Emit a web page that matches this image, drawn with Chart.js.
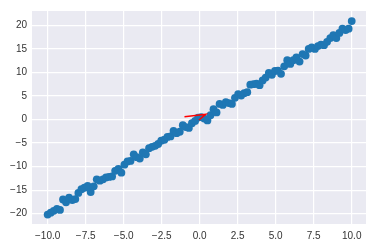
<!DOCTYPE html>
<html>
<head>
<meta charset="utf-8">
<script src="https://cdn.jsdelivr.net/npm/chart.js"></script>
<style>
  html, body { margin: 0; padding: 0; background: #fff; }
  #wrap { width: 373px; height: 247px; }
</style>
</head>
<body>
<div id="wrap"><canvas id="chart"></canvas></div>
<script>
// scatter data
const xVals = [
  -10.00, -9.80, -9.60, -9.39, -9.19, -8.99, -8.79, -8.59, -8.38, -8.18,
  -7.98, -7.78, -7.58, -7.37, -7.17, -6.97, -6.77, -6.57, -6.36, -6.16,
  -5.96, -5.76, -5.56, -5.35, -5.15, -4.95, -4.75, -4.55, -4.34, -4.14,
  -3.94, -3.74, -3.54, -3.33, -3.13, -2.93, -2.73, -2.53, -2.32, -2.12,
  -1.92, -1.72, -1.52, -1.31, -1.11, -0.91, -0.71, -0.51, -0.30, -0.10,
  0.10, 0.30, 0.51, 0.71, 0.91, 1.11, 1.31, 1.52, 1.72, 1.92,
  2.12, 2.32, 2.53, 2.73, 2.93, 3.13, 3.33, 3.54, 3.74, 3.94,
  4.14, 4.34, 4.55, 4.75, 4.95, 5.15, 5.35, 5.56, 5.76, 5.96,
  6.16, 6.36, 6.57, 6.77, 6.97, 7.17, 7.37, 7.58, 7.78, 7.98,
  8.18, 8.38, 8.59, 8.79, 8.99, 9.19, 9.39, 9.60, 9.80, 10.00
];
const yVals = [
  -20.2, -19.8, -19.4, -19.0, -19.2, -17.0, -17.6, -16.6, -17.1, -16.9,
  -15.6, -14.8, -14.5, -14.1, -15.4, -14.2, -12.7, -13.0, -12.7, -12.3,
  -12.2, -12.1, -10.9, -10.5, -11.3, -9.6, -8.9, -8.8, -7.4, -8.0,
  -8.3, -7.0, -7.4, -6.1, -5.8, -5.6, -5.2, -4.5, -4.3, -3.7,
  -3.6, -2.4, -2.9, -2.6, -1.2, -1.6, -1.8, -0.8, -0.3, 0.4,
  0.5, 0.2, -0.2, 0.9, 2.2, 1.5, 3.3, 3.1, 3.7, 3.5,
  3.3, 4.6, 5.4, 5.1, 5.6, 5.8, 7.4, 7.5, 7.6, 7.3,
  8.3, 8.9, 9.9, 9.5, 10.3, 10.4, 9.7, 11.3, 12.6, 11.8,
  12.6, 13.2, 12.3, 13.9, 13.6, 15.0, 15.3, 15.0, 15.6, 15.9,
  15.8, 16.5, 17.3, 17.9, 17.3, 18.4, 19.3, 19.0, 19.3, 20.9
];

// red arrow: tail, tip, barb
const arrowX = [-1.0, 0.4, -0.05];
const arrowY = [0.6, 1.1, -0.1];

const xTicks = [-10, -7.5, -5, -2.5, 0, 2.5, 5, 7.5, 10];
const yTicks = [-20, -15, -10, -5, 0, 5, 10, 15, 20];

const minus = s => s.replace('-', '\u2212');

const bgPlugin = {
  id: 'bg',
  beforeDraw(chart) {
    const { ctx, chartArea: a } = chart;
    ctx.save();
    ctx.fillStyle = '#EAEAF2';
    ctx.fillRect(a.left, a.top, a.right - a.left, a.bottom - a.top);
    ctx.restore();
  }
};

new Chart(document.getElementById('chart'), {
  type: 'scatter',
  data: {
    datasets: [
      {
        type: 'line',
        data: arrowX.map((x, i) => ({ x, y: arrowY[i] })),
        borderColor: '#ff0000',
        borderWidth: 1.5,
        pointRadius: 0,
        fill: false,
        order: 0
      },
      {
        data: xVals.map((x, i) => ({ x, y: yVals[i] })),
        backgroundColor: '#1f77b4',
        borderWidth: 0,
        pointRadius: 3.9,
        order: 1
      }
    ]
  },
  options: {
    responsive: true,
    maintainAspectRatio: false,
    animation: false,
    layout: { padding: { top: 6, right: 7, left: 0, bottom: 0 } },
    plugins: { legend: { display: false }, tooltip: { enabled: false } },
    scales: {
      x: {
        type: 'linear',
        min: -11.03,
        max: 10.94,
        afterBuildTicks: s => { s.ticks = xTicks.map(v => ({ value: v })); },
        afterFit: s => { s.height = 23; },
        grid: { color: '#ffffff', lineWidth: 1.2, drawTicks: false },
        border: { display: false },
        ticks: {
          color: '#333333',
          padding: 6,
          maxRotation: 0,
          font: { family: 'Liberation Sans, Arial, sans-serif', size: 10 },
          callback: v => minus(v.toFixed(1))
        }
      },
      y: {
        type: 'linear',
        min: -22.2,
        max: 23.05,
        afterBuildTicks: s => { s.ticks = yTicks.map(v => ({ value: v })); },
        afterFit: s => { s.width = 32; },
        grid: { color: '#ffffff', lineWidth: 1.2, drawTicks: false },
        border: { display: false },
        ticks: {
          color: '#333333',
          padding: 5,
          font: { family: 'Liberation Sans, Arial, sans-serif', size: 10 },
          callback: v => minus(String(v))
        }
      }
    }
  },
  plugins: [bgPlugin]
});
</script>
</body>
</html>
